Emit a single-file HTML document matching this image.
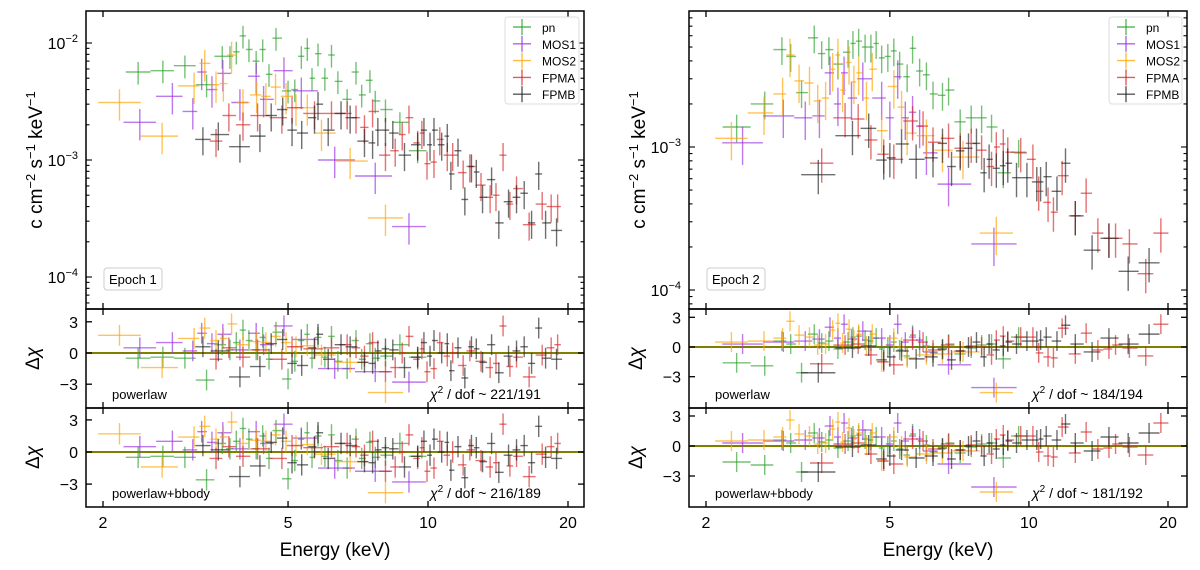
<!DOCTYPE html>
<html><head><meta charset="utf-8"><style>
html,body{margin:0;padding:0;background:#fff;}
svg{display:block;font-family:"Liberation Sans","DejaVu Sans",sans-serif;}
</style></head><body>
<svg id="fig" width="1200" height="570" viewBox="0 0 1200 570" xmlns="http://www.w3.org/2000/svg"></svg>
<script>
// ---------- Epoch 1 data ----------
const e1_pn_E=[2.38,2.69,3.0,3.34,3.61,3.75,3.87,4.0,4.12,4.27,4.41,4.55,4.71,5.0,5.17,5.34,5.5,5.63,5.8,6.0,6.2,6.4,6.7,7.0,7.2,7.5,7.7,8.1,8.7,9.5];
const e1_pn_F=[5.65e-3,5.8e-3,6.4e-3,4.4e-3,7.7e-3,7.7e-3,8.4e-3,1.15e-2,8.8e-3,7.0e-3,8.8e-3,5.4e-3,1.1e-2,3.9e-3,4.0e-3,7.7e-3,9.0e-3,5.0e-3,8.1e-3,5.0e-3,7.9e-3,4.7e-3,3.3e-3,5.65e-3,3.6e-3,4.8e-3,3.2e-3,2.7e-3,2.1e-3,1.2e-3];
const e1_pn_R=[-0.5,-0.4,-0.5,-2.6,0.8,0.3,1.0,2.2,1.2,0.3,1.5,-0.6,2.0,-2.5,-0.8,1.2,1.8,-0.5,1.5,-0.4,1.6,-0.8,-1.5,1.2,-0.6,0.9,-0.5,-0.3,0.8,-0.4];
const e1_mos1_E=[2.4,2.82,3.12,3.26,3.43,3.62,3.94,4.27,4.43,4.9,5.34,6.3,7.7,9.1];
const e1_mos1_F=[2.1e-3,3.5e-3,2.6e-3,5.65e-3,4.0e-3,5.5e-3,3.1e-3,5.2e-3,3.3e-3,5.8e-3,3.9e-3,1.0e-3,7.3e-4,2.7e-4];
const e1_mos1_R=[0.5,1.0,0.2,1.9,0.9,1.8,0.3,1.9,0.8,2.6,1.3,-1.5,-1.8,-2.8];
const e1_mos2_E=[2.17,2.68,3.14,3.31,3.5,3.63,3.78,4.0,4.28,4.48,4.7,4.95,5.2,5.5,5.9,6.8,8.1];
const e1_mos2_F=[3.1e-3,1.6e-3,4.3e-3,6.7e-3,4.4e-3,4.5e-3,7.9e-3,3.1e-3,3.6e-3,3.5e-3,4.2e-3,3.5e-3,2.8e-3,2.8e-3,1.7e-3,9.8e-4,3.2e-4];
const e1_mos2_R=[1.7,-1.4,1.4,2.4,1.2,1.4,2.8,0.8,1.1,1.0,1.6,1.0,0.6,0.7,-0.2,-0.9,-3.8];
const e1_fpma_E=[3.5,3.73,4.0,4.3,4.85,5.1,5.7,6.2,6.7,7.0,7.3,7.6,8.1,8.5,8.8,9.1,9.5,9.7,9.95,10.3,10.6,11.0,11.3,11.9,12.3,13.0,13.6,14.0,14.5,15.0,15.5,16.5,17.6,18.4,19.0];
const e1_fpma_F=[1.45e-3,2.4e-3,2.0e-3,2.4e-3,2.3e-3,2.8e-3,2.5e-3,2.5e-3,2.5e-3,2.3e-3,1.9e-3,2.6e-3,1.1e-3,1.2e-3,1.65e-3,2.3e-3,1.4e-3,1.7e-3,9.3e-4,9.6e-4,1.5e-3,1.1e-3,1.1e-3,7.8e-4,8.8e-4,6.1e-4,4.8e-4,5.0e-4,1.1e-3,4.2e-4,5.7e-4,2.8e-4,4.2e-4,4.0e-4,4.0e-4];
const e1_fpma_R=[-0.6,0.5,-0.4,0.3,-0.6,0.6,0.4,0.5,0.8,0.5,-0.3,1.0,-1.8,-1.4,0.0,1.6,-0.6,0.4,-1.8,-1.5,1.0,-0.3,0.0,-1.2,0.2,-0.8,-1.4,-1.0,2.6,-1.3,-0.4,-2.3,-0.2,0.5,0.8];
const e1_fpmb_E=[3.28,3.54,3.94,4.35,4.6,4.87,5.1,5.35,5.7,5.8,6.1,6.5,6.8,7.3,7.6,7.8,8.1,8.4,8.9,9.5,9.8,10.1,10.3,10.7,11.0,11.2,11.6,12.0,12.4,12.7,13.1,13.7,14.2,14.9,15.5,16.1,16.7,17.3,17.9,18.9];
const e1_fpmb_F=[1.5e-3,1.65e-3,1.3e-3,1.6e-3,2.4e-3,2.7e-3,1.8e-3,1.7e-3,2.3e-3,3.0e-3,1.8e-3,2.5e-3,2.3e-3,1.45e-3,1.4e-3,1.8e-3,1.8e-3,1.7e-3,1.1e-3,1.35e-3,1.8e-3,1.35e-3,1.8e-3,1.35e-3,1.6e-3,7.6e-4,1.2e-3,4.6e-4,8.8e-4,7.9e-4,4.8e-4,6.8e-4,2.9e-4,4.4e-4,4.8e-4,5.2e-4,2.9e-4,7.6e-4,2.9e-4,2.5e-4];
const e1_fpmb_R=[0.6,0.2,-2.3,-1.3,0.9,1.3,-1.0,-1.2,0.5,1.8,-0.6,0.8,0.6,-0.9,-1.0,0.2,0.4,0.3,-1.4,-0.4,1.0,-0.3,1.2,0.0,0.9,-1.7,0.5,-2.4,0.6,0.4,-0.9,0.8,-1.9,-0.3,0.2,0.6,-1.0,2.4,-0.5,-0.6];
// ---------- Epoch 2 data ----------
const e2_pn_E=[2.33,2.68,2.92,3.05,3.22,3.43,3.56,3.69,3.86,4.06,4.16,4.28,4.42,4.55,4.67,4.8,4.95,5.1,5.25,5.45,5.6,5.8,6.0,6.2,6.5,6.7,7.1,7.5,7.9,8.3,8.8,9.5];
const e2_pn_F=[1.38e-3,2.0e-3,4.8e-3,4.3e-3,2.4e-3,5.8e-3,4.5e-3,4.8e-3,3.8e-3,4.6e-3,5.3e-3,5.5e-3,5.0e-3,5.0e-3,5.3e-3,4.2e-3,4.3e-3,4.7e-3,3.8e-3,3.1e-3,4.9e-3,3.4e-3,3.2e-3,2.35e-3,2.3e-3,2.5e-3,1.5e-3,1.6e-3,1.6e-3,1.38e-3,6.6e-4,9.2e-4];
const e2_pn_R=[-1.6,-1.9,0.6,0.3,-2.6,1.3,0.4,0.6,-0.2,0.5,1.0,1.1,0.7,0.6,0.9,-0.2,0.0,0.5,-0.3,-0.9,1.2,0.0,0.1,-0.6,-0.3,0.3,-0.7,-0.1,0.2,0.3,-1.2,1.0];
const e2_mos1_E=[2.4,2.94,3.28,3.52,3.71,3.86,3.98,4.13,4.37,4.8,5.0,5.2,5.4,5.6,5.8,6.0,6.7,8.4];
const e2_mos1_F=[1.07e-3,1.65e-3,1.6e-3,1.65e-3,3.3e-3,2.0e-3,3.3e-3,2.2e-3,3.0e-3,2.2e-3,1.6e-3,3.1e-3,1.6e-3,1.75e-3,1.4e-3,9.1e-4,5.5e-4,2.1e-4];
const e2_mos1_R=[0.3,0.5,0.6,0.8,2.0,0.9,2.3,0.8,1.6,0.9,0.2,2.3,0.5,1.0,0.7,-0.5,-1.8,-4.1];
const e2_mos2_E=[2.27,2.67,2.93,3.04,3.18,3.35,3.49,3.63,3.76,3.86,3.95,4.08,4.18,4.28,4.45,4.58,4.8,5.1,5.3,5.45,6.0,6.5,7.2,8.5];
const e2_mos2_F=[1.15e-3,1.73e-3,2.35e-3,4.4e-3,2.9e-3,2.8e-3,2.1e-3,2.2e-3,3.5e-3,4.4e-3,2.5e-3,3.9e-3,2.85e-3,3.3e-3,2.2e-3,3.5e-3,1.3e-3,2.65e-3,1.9e-3,1.25e-3,1.2e-3,9.5e-4,8.5e-4,2.5e-4];
const e2_mos2_R=[0.5,0.6,0.9,2.6,1.2,1.0,0.2,0.3,1.7,2.4,0.4,1.8,0.7,1.3,0.1,1.3,-1.5,0.9,0.0,-1.1,-0.8,-0.7,-0.5,-4.6];
const e2_fpma_E=[3.56,4.0,4.27,4.55,4.85,5.1,5.6,5.9,6.2,6.7,7.1,7.5,7.9,8.3,8.5,8.8,9.0,9.6,10.2,10.5,11.0,11.3,11.8,12.6,13.3,14.1,14.9,15.4,16.5,17.9,19.3];
const e2_fpma_F=[7.7e-4,1.6e-3,1.57e-3,1.12e-3,8.9e-4,8.2e-4,1.52e-3,1.4e-3,1.08e-3,1.15e-3,9.8e-4,1.06e-3,9.5e-4,7.3e-4,1.0e-3,1.05e-3,9.2e-4,9.1e-4,8.2e-4,4.9e-4,4.1e-4,3.5e-4,6.3e-4,3.3e-4,4.75e-4,2.5e-4,2.3e-4,2.3e-4,2.1e-4,1.3e-4,2.5e-4];
const e2_fpma_R=[-1.7,0.2,0.3,-0.8,-1.5,-1.8,0.7,0.5,-0.3,0.2,-0.4,0.1,0.0,-0.8,0.7,1.1,0.6,1.0,1.0,-0.6,-1.0,-1.1,1.9,-0.7,1.4,-0.3,-0.2,0.2,-0.1,-0.9,2.3];
const e2_fpmb_E=[3.5,4.15,4.5,4.85,5.0,5.3,5.7,6.2,6.5,6.8,7.1,7.4,7.7,8.0,8.2,8.5,8.8,9.0,9.4,9.9,10.4,10.6,10.9,11.5,12.0,12.6,13.7,14.9,16.4,18.2];
const e2_fpmb_F=[6.4e-4,1.2e-3,1.35e-3,8.1e-4,8.4e-4,1.05e-3,8.2e-4,8.4e-4,1.06e-3,7.3e-4,9.4e-4,9.8e-4,1.06e-3,6.6e-4,8.2e-4,7.1e-4,7.4e-4,7.7e-4,6.1e-4,6.1e-4,5.7e-4,5.7e-4,6.2e-4,4.9e-4,7.7e-4,3.3e-4,1.9e-4,2.3e-4,1.35e-4,1.55e-4];
const e2_fpmb_R=[-2.6,-0.1,0.1,-1.3,-1.0,-0.4,-1.2,-1.0,-0.2,-1.3,-0.4,0.0,0.5,-1.0,0.3,-0.3,0.1,0.5,0.3,0.6,0.6,0.7,1.0,0.6,2.2,0.3,-0.5,0.9,0.3,1.3];
// relative flux errors per instrument
const relErr=[0.22,0.3,0.3,0.27,0.27];
const instruments=["pn","MOS1","MOS2","FPMA","FPMB"];
const colors=["#2ca02c","#9a2fe0","#ffa500","#d62728","#222222"];
const xTicks=[2,5,10,20];
const resTicks=[3,0,-3];
const chi1=["221/191","216/189"];
const chi2=["184/194","181/192"];

const NS="http://www.w3.org/2000/svg";
const svg=document.getElementById('fig');
function mk(tag,attrs,parent){const e=document.createElementNS(NS,tag);for(const k in attrs)e.setAttribute(k,attrs[k]);(parent||svg).appendChild(e);return e;}
function line(p,x1,y1,x2,y2,st,w,op){return mk('line',{x1:x1,y1:y1,x2:x2,y2:y2,stroke:st,'stroke-width':w||1,'stroke-opacity':op==null?1:op},p);}

function drawEpoch(cfg){
  const g=mk('g',{});
  
  
  const X=E=>cfg.x2+cfg.xdec*Math.log10(E/2);
  const Y=f=>cfg.yRef-cfg.ydec*(Math.log10(f)-cfg.logRef);
  const panels=[{t:11,b:309},{t:309,b:408,z:cfg.z1,u:cfg.u1},{t:408,b:507,z:cfg.z2,u:cfg.u2}];
  panels.forEach((p,i)=>{const cp=mk('clipPath',{id:cfg.id+'c'+i},g);mk('rect',{x:cfg.x0,y:p.t,width:cfg.x1-cfg.x0,height:p.b-p.t},cp);});
  [1,2].forEach(i=>{const p=panels[i];const l=line(g,cfg.x0,p.z,cfg.x1,p.z,'#808000',2);
    
    });
  cfg.series.forEach((s,si)=>{
    const E=s.E,F=s.F,R=s.R;const col=colors[si];
    const sg=mk('g',{},g);
    
    
    for(let i=0;i<E.length;i++){
      const lg=Math.log10(E[i]);
      const lp=i>0?Math.log10(E[i-1]):null, ln=i<E.length-1?Math.log10(E[i+1]):null;
      const hl=lp!=null?(lg-lp)/2:(ln-lg)/2, hr=ln!=null?(ln-lg)/2:(lg-lp)/2;
      const xa=cfg.x2+cfg.xdec*(lg-hl-Math.log10(2)), xb=cfg.x2+cfg.xdec*(lg+hr-Math.log10(2)), xc=X(E[i]);
      const m=mk('g',{'clip-path':'url(#'+cfg.id+'c0)'},sg);
      const yc=Y(F[i]),ya=Y(F[i]*(1+relErr[si])),yb=Y(F[i]*(1-relErr[si]));
      line(m,xa,yc,xb,yc,col,1.4,0.65);line(m,xc,ya,xc,yb,col,1.4,0.65);
      
      
      [1,2].forEach(pi=>{const p=panels[pi];
        const r=mk('g',{'clip-path':'url(#'+cfg.id+'c'+pi+')'},sg);
        
        
        const ry=p.z-p.u*R[i];
        line(r,xa,ry,xb,ry,col,1.4,0.65);line(r,xc,ry-p.u,xc,ry+p.u,col,1.4,0.65);});
    }
  });
  panels.forEach((p,i)=>{const fr=mk('rect',{x:cfg.x0,y:p.t,width:cfg.x1-cfg.x0,height:p.b-p.t,fill:'none',stroke:'#000','stroke-width':1.5},g);
    
    
    xTicks.forEach(t=>{const x=X(t);line(g,x,p.t,x,p.t+6,'#000',1.3);line(g,x,p.b,x,p.b-6,'#000',1.3);});
    if(i>0){resTicks.forEach(v=>{const y=p.z-p.u*v;line(g,cfg.x0,y,cfg.x0+6,y,'#000',1.3);line(g,cfg.x1,y,cfg.x1-6,y,'#000',1.3);
      const tl=mk('text',{x:cfg.x0-8,y:y+6,'text-anchor':'end','font-size':16},g);tl.textContent=v<0?'\u2212'+(-v):String(v);
      
      });
      const yt=mk('text',{x:0,y:0,'font-size':19,'text-anchor':'middle',transform:'translate('+(cfg.x0-47)+','+((p.t+p.b)/2)+') rotate(-90)'},g);
      yt.innerHTML='\u0394<tspan font-style="italic">\u03c7</tspan>';
      
      
    }
  });
  for(let d=-5;d<=-1;d++){for(let k=1;k<10;k++){const f=k*Math.pow(10,d);const y=Y(f);if(y<11.5||y>308.5)continue;
    const len=k==1?6:3.5;line(g,cfg.x0,y,cfg.x0+len,y,'#000',1.1);line(g,cfg.x1,y,cfg.x1-len,y,'#000',1.1);
    if(k==1){const tl=mk('text',{x:cfg.x0-8,y:y+6,'text-anchor':'end','font-size':16},g);
      tl.innerHTML='10<tspan dy="-7" font-size="11">\u2212'+(-d)+'</tspan>';
      
      }}}
  xTicks.forEach(t=>{const tl=mk('text',{x:X(t),y:528,'text-anchor':'middle','font-size':16},g);tl.textContent=t;
    
    });
  const xt=mk('text',{x:(cfg.x0+cfg.x1)/2,y:556,'text-anchor':'middle','font-size':19},g);xt.textContent='Energy (keV)';
  
  
  const yt=mk('text',{x:0,y:0,'font-size':19,'text-anchor':'middle',transform:'translate('+(cfg.x0-44)+',160) rotate(-90)'},g);
  yt.innerHTML='c cm<tspan dy="-7" font-size="13">\u22122</tspan><tspan dy="7"> s</tspan><tspan dy="-7" font-size="13">\u22121</tspan><tspan dy="7"> keV</tspan><tspan dy="-7" font-size="13">\u22121</tspan>';
  
  
  const eb=mk('rect',{x:cfg.x0+18,y:268,width:58,height:22,rx:3,fill:'#fff',stroke:'#ccc'},g);
  
  
  const et=mk('text',{x:cfg.x0+23,y:284,'font-size':13},g);et.textContent=cfg.epoch;
  
  
  [['powerlaw',panels[1]],['powerlaw+bbody',panels[2]]].forEach((m,i)=>{
    const t=mk('text',{x:cfg.x0+26,y:m[1].b-9,'font-size':13},g);t.textContent=m[0];
    
    
    const c=mk('text',{x:cfg.chiX,y:m[1].b-9,'font-size':14},g);
    c.innerHTML='<tspan font-style="italic">\u03c7</tspan><tspan dy="-6" font-size="10">2</tspan><tspan dy="6"> / dof ~ '+cfg.chi[i]+'</tspan>';
    
    });
  const lg=mk('g',{},g);
  
  
  mk('rect',{x:cfg.legX,y:17,width:cfg.x1-5-cfg.legX,height:87,rx:3,fill:'#fff','fill-opacity':0.8,stroke:'#ddd'},lg);
  instruments.forEach((n,i)=>{const y=27+i*16.8;const mx=cfg.legX+17;
    const eg=mk('g',{},lg);
    
    
    line(eg,mx-9,y,mx+9,y,colors[i],1.4,0.75);line(eg,mx,y-8,mx,y+8,colors[i],1.4,0.75);
    const t=mk('text',{x:cfg.legX+37,y:y+5,'font-size':12},eg);t.textContent=n;});
}
drawEpoch({id:'a',name:'epoch-1-plot',epoch:'Epoch 1',x0:86,x1:584,x2:103,xdec:465,yRef:43,ydec:117,logRef:-2,
  z1:353,u1:10.4,z2:452,u2:10.7,chiX:430,chi:chi1,legX:505,
  series:[{E:e1_pn_E,F:e1_pn_F,R:e1_pn_R},{E:e1_mos1_E,F:e1_mos1_F,R:e1_mos1_R},{E:e1_mos2_E,F:e1_mos2_F,R:e1_mos2_R},{E:e1_fpma_E,F:e1_fpma_F,R:e1_fpma_R},{E:e1_fpmb_E,F:e1_fpmb_F,R:e1_fpmb_R}]});
drawEpoch({id:'b',name:'epoch-2-plot',epoch:'Epoch 2',x0:689,x1:1187,x2:706,xdec:462,yRef:147,ydec:143,logRef:-3,
  z1:347,u1:9.9,z2:446,u2:10,chiX:1032,chi:chi2,legX:1109,
  series:[{E:e2_pn_E,F:e2_pn_F,R:e2_pn_R},{E:e2_mos1_E,F:e2_mos1_F,R:e2_mos1_R},{E:e2_mos2_E,F:e2_mos2_F,R:e2_mos2_R},{E:e2_fpma_E,F:e2_fpma_F,R:e2_fpma_R},{E:e2_fpmb_E,F:e2_fpmb_F,R:e2_fpmb_R}]});
</script>
</body></html>
